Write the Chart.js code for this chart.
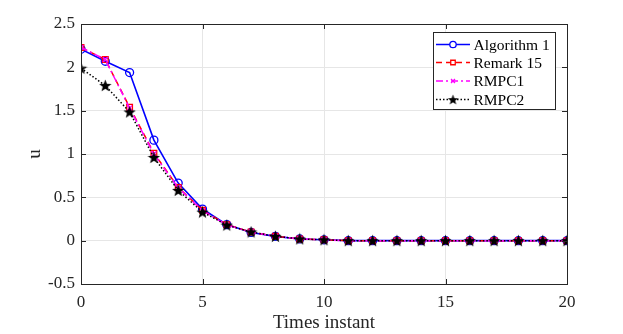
<!DOCTYPE html>
<html><head><meta charset="utf-8">
<script src="https://cdn.jsdelivr.net/npm/chart.js@4"></script>
<style>html,body{margin:0;padding:0;background:#fff}#wrap{width:623px;height:334px}</style>
</head><body><div id="wrap"><canvas id="c"></canvas></div>
<script>
const timeSteps = [0,1,2,3,4,5,6,7,8,9,10,11,12,13,14,15,16,17,18,19,20];
const algorithm1 = [2.21,2.07,1.94,1.16,0.665,0.365,0.185,0.095,0.05,0.02,0.01,0,0,0,0,0,0,0,0,0,0];
const remark15   = [2.23,2.09,1.54,1.01,0.615,0.35,0.185,0.10,0.05,0.02,0.01,0,0,0,0,0,0,0,0,0,0];
const rmpc1      = [2.23,2.09,1.53,1.00,0.61,0.345,0.18,0.10,0.05,0.02,0.01,0,0,0,0,0,0,0,0,0,0];
const rmpc2      = [1.99,1.79,1.485,0.96,0.58,0.33,0.18,0.10,0.05,0.02,0.01,0,0,0,0,0,0,0,0,0,0];
const seriesNames = ['Algorithm 1','Remark 15','RMPC1','RMPC2'];
const xTicks = [0,5,10,15,20];
const yTicks = [-0.5,0,0.5,1,1.5,2,2.5];

function starImg(size,color){
  const c=document.createElement('canvas'); c.width=size; c.height=size;
  const g=c.getContext('2d'); const cx=size/2, cy=size/2+0.5, R=size/2, r=R*0.42;
  g.beginPath();
  for(let i=0;i<10;i++){const a=-Math.PI/2+i*Math.PI/5; const rr=i%2?r:R; g.lineTo(cx+rr*Math.cos(a), cy+rr*Math.sin(a));}
  g.closePath(); g.fillStyle=color; g.fill(); return c;
}
const star = starImg(13,'#000');
const starSmall = starImg(11,'#000');

const pts = arr => timeSteps.map((t,i)=>({x:t,y:arr[i]}));
const FONT = "'Liberation Serif','Times New Roman',serif";

const datasets = [
  {label:seriesNames[0],data:pts(algorithm1),borderColor:'#0000ff',backgroundColor:'rgba(0,0,0,0)',borderWidth:1.6,pointStyle:'circle',pointRadius:4,pointBorderWidth:1.3,pointBorderColor:'#0000ff',order:4},
  {label:seriesNames[1],data:pts(remark15),borderColor:'#ff0000',backgroundColor:'rgba(0,0,0,0)',borderWidth:1.5,borderDash:[6,4],pointStyle:'rect',pointRadius:4,pointBorderWidth:1.3,pointBorderColor:'#ff0000',order:3},
  {label:seriesNames[2],data:pts(rmpc1),borderColor:'#ff00ff',backgroundColor:'rgba(0,0,0,0)',borderWidth:1.5,borderDash:[7,3,2,3],pointStyle:'crossRot',pointRadius:3.5,pointBorderWidth:1.3,pointBorderColor:'#ff00ff',order:2},
  {label:seriesNames[3],data:pts(rmpc2),borderColor:'#000000',backgroundColor:'#000',borderWidth:1.5,borderDash:[1.5,2],pointStyle:star,pointRadius:6,order:1}
];

const boxPlugin = {
  id:'box',
  afterDraw(chart){
    const {ctx,chartArea:a,scales:{x,y}}=chart;
    ctx.save();
    ctx.strokeStyle='#262626'; ctx.lineWidth=1;
    ctx.strokeRect(Math.round(a.left)+0.5,Math.round(a.top)+0.5,Math.round(a.right-a.left),Math.round(a.bottom-a.top));
    ctx.beginPath();
    xTicks.forEach(v=>{const px=Math.round(x.getPixelForValue(v))+0.5; ctx.moveTo(px,a.bottom); ctx.lineTo(px,a.bottom-5); ctx.moveTo(px,a.top); ctx.lineTo(px,a.top+5);});
    yTicks.forEach(v=>{const py=Math.round(y.getPixelForValue(v))+0.5; ctx.moveTo(a.left,py); ctx.lineTo(a.left+5,py); ctx.moveTo(a.right,py); ctx.lineTo(a.right-5,py);});
    ctx.stroke();
    // legend
    const L=433.5,T=32.5,W=122,H=77;
    ctx.fillStyle='#fff'; ctx.fillRect(L,T,W,H);
    ctx.strokeStyle='#262626'; ctx.strokeRect(L,T,W,H);
    const rows=[44.5,62.5,81,99.5];
    chart.data.datasets.forEach((d,i)=>{
      const yy=rows[i];
      ctx.save();
      ctx.strokeStyle=d.borderColor; ctx.lineWidth=d.borderWidth; ctx.setLineDash(d.borderDash||[]);
      ctx.beginPath(); ctx.moveTo(436,yy); ctx.lineTo(470,yy); ctx.stroke();
      ctx.setLineDash([]);
      ctx.fillStyle='#fff'; ctx.strokeStyle=d.pointBorderColor||d.borderColor; ctx.lineWidth=d.pointBorderWidth||1;
      const ps = (d.pointStyle===star)?starSmall:d.pointStyle;
      Chart.helpers.drawPoint(ctx,{pointStyle:ps,radius:d.pointRadius*0.8,borderWidth:d.pointBorderWidth||1,rotation:0},453,yy);
      ctx.restore();
      ctx.fillStyle='#000'; ctx.font="15.5px "+FONT; ctx.textBaseline='middle'; ctx.textAlign='left';
      ctx.fillText(d.label,473.5,yy+1);
    });
    ctx.restore();
  }
};

new Chart(document.getElementById('c'),{
  type:'line',
  data:{datasets},
  options:{
    responsive:true,maintainAspectRatio:false,animation:false,
    layout:{padding:{top:24,right:56,left:24,bottom:0}},
    plugins:{legend:{display:false},tooltip:{enabled:false}},
    scales:{
      x:{type:'linear',min:0,max:20,
        afterBuildTicks(s){s.ticks=xTicks.map(v=>({value:v}));},
        afterFit(s){s.height=50;},
        grid:{color:'#e6e6e6',drawTicks:false},border:{display:false},
        ticks:{color:'#262626',font:{family:FONT,size:17},padding:8,maxRotation:0},
        title:{display:true,text:'Times instant',color:'#262626',font:{family:FONT,size:19},padding:{top:0,bottom:0}}
      },
      y:{type:'linear',min:-0.5,max:2.5,
        afterBuildTicks(s){s.ticks=yTicks.map(v=>({value:v}));},
        afterFit(s){s.width=57;},
        grid:{color:'#e6e6e6',drawTicks:false},border:{display:false},
        ticks:{color:'#262626',font:{family:FONT,size:17},padding:6,callback:v=>String(v)},
        title:{display:true,text:'u',color:'#262626',font:{family:FONT,size:19},padding:{top:0,bottom:0}}
      }
    }
  },
  plugins:[boxPlugin]
});
</script></body></html>
